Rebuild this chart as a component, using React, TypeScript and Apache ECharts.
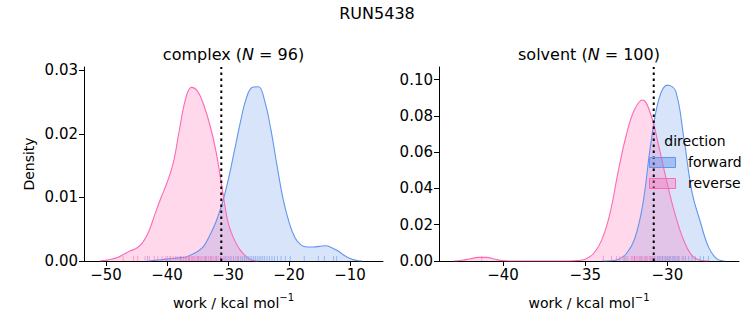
import React, { useEffect, useRef } from "react";
import * as echarts from "echarts";

const BLUE = "#6495ED";
const PINK = "#FF69B4";
const FONT = "DejaVu Sans";

// KDE curves [work, density]
const complexForward: [number, number][] = [
  [-43, 0], [-42, 0.0001], [-41, 0.0002], [-40, 0.0003], [-39, 0.0004], [-38, 0.0005],
  [-37, 0.0006], [-36, 0.001], [-35, 0.0015], [-34, 0.0023], [-33, 0.004], [-32, 0.0061],
  [-31, 0.0089], [-30, 0.0126], [-29, 0.0171], [-28, 0.0217], [-27, 0.0256], [-26, 0.0273],
  [-25, 0.0274], [-24, 0.0252], [-23, 0.0208], [-22, 0.0152], [-21, 0.0099], [-20, 0.0061],
  [-19, 0.0036], [-18, 0.0025], [-17, 0.0022], [-16, 0.0022], [-15, 0.0023], [-14, 0.0024],
  [-13, 0.0021], [-12, 0.0016], [-11, 0.0009], [-10, 0.0004], [-9, 0.0001], [-8, 0],
];
const complexReverse: [number, number][] = [
  [-51, 0], [-50, 0.0001], [-49, 0.0003], [-48, 0.0006], [-47, 0.0011], [-46, 0.0016],
  [-45, 0.002], [-44, 0.0029], [-43, 0.0046], [-42, 0.0073], [-41, 0.0099], [-40, 0.0123],
  [-39, 0.0153], [-38, 0.0204], [-37, 0.0253], [-36, 0.0273], [-35, 0.0267], [-34, 0.0246],
  [-33, 0.0215], [-32, 0.0174], [-31, 0.0117], [-30, 0.0061], [-29, 0.0034], [-28, 0.0017],
  [-27, 0.0007], [-26, 0.0001], [-25, 0],
];
const solventForward: [number, number][] = [
  [-34, 0], [-33.5, 0.0001], [-33, 0.0008], [-32.5, 0.004], [-32, 0.012], [-31.5, 0.031],
  [-31, 0.0653], [-30.5, 0.0898], [-30, 0.097], [-29.5, 0.0938], [-29, 0.068], [-28.5, 0.038],
  [-28, 0.0218], [-27.5, 0.0078], [-27, 0.0013], [-26.5, 0],
];
const solventReverse: [number, number][] = [
  [-43, 0], [-42.5, 0.0004], [-42, 0.0012], [-41.5, 0.002], [-41, 0.002], [-40.5, 0.001],
  [-40, 0.0002], [-39.5, 0], [-36, 0], [-35.5, 0.0002], [-35, 0.001], [-34.5, 0.004],
  [-34, 0.0115], [-33.5, 0.026], [-33, 0.049], [-32.5, 0.0695], [-32, 0.0835], [-31.5, 0.0888],
  [-31, 0.0805], [-30.5, 0.0624], [-30, 0.0424], [-29.5, 0.0248], [-29, 0.0113], [-28.5, 0.003],
  [-28, 0.0004], [-27.5, 0],
];

// rug samples
const complexForwardRug = [
  -43.2, -39.5, -37.8, -36.4, -34.9, -33.7, -32.8, -31.9, -31.2, -30.5, -30.0, -29.5, -29.1,
  -28.7, -28.3, -27.9, -27.6, -27.3, -27.0, -26.7, -26.4, -26.1, -25.8, -25.5, -25.2, -24.9,
  -24.6, -24.3, -24.0, -23.6, -23.2, -22.8, -22.4, -21.9, -21.3, -20.6, -19.8, -17.5, -15.2,
  -14.2, -12.7, -12.2,
];
const complexReverseRug = [
  -47.2, -45.5, -44.8, -43.6, -42.9, -42.1, -41.5, -40.8, -40.2, -39.9, -39.4, -39.0, -38.6,
  -38.3, -37.9, -37.6, -37.3, -37.0, -36.8, -36.5, -36.3, -36.0, -35.8, -35.6, -35.4, -35.1,
  -34.9, -34.6, -34.4, -34.1, -33.8, -33.5, -33.2, -32.9, -32.6, -32.3, -32.0, -31.6, -31.2,
  -30.8, -30.3, -29.7, -29.1, -28.4,
];
const solventForwardRug = [
  -32.6, -32.0, -31.6, -31.3, -31.0, -30.8, -30.6, -30.5, -30.4, -30.3, -30.2, -30.1, -30.0,
  -29.9, -29.8, -29.7, -29.6, -29.5, -29.4, -29.3, -29.1, -28.9, -28.7, -28.5, -28.3, -28.0,
  -27.8, -27.5,
];
const solventReverseRug = [
  -41.3, -33.9, -33.4, -33.1, -32.9, -32.7, -32.5, -32.4, -32.2, -32.1, -32.0, -31.9, -31.8,
  -31.7, -31.6, -31.5, -31.4, -31.3, -31.2, -31.1, -31.0, -30.9, -30.7, -30.5, -30.3, -30.1,
  -29.9, -29.6, -29.3, -29.0,
];

const complexLine = -31.1;
const solventLine = -30.83;

const complexXTicks = [-50, -40, -30, -20, -10];
const complexYTicks = [0, 0.01, 0.02, 0.03];
const solventXTicks = [-40, -35, -30];
const solventYTicks = [0, 0.02, 0.04, 0.06, 0.08, 0.1];

const complexXRange = [-53.6, -4.6];
const complexYMax = 0.0305;
const solventXRange = [-43.9, -25.64];
const solventYMax = 0.107;

const fmtMinus = (v: number) => (v < 0 ? "\u2212" + Math.abs(v) : String(v));

const xNameRich = {
  b: { fontSize: 14, fontFamily: FONT, color: "#000", lineHeight: 18, verticalAlign: "bottom" },
  sup: { fontSize: 10, fontFamily: FONT, color: "#000", lineHeight: 18, verticalAlign: "top" },
};

function xAxis(grid: number, range: number[], ticks: number[]) {
  return {
    type: "value",
    gridIndex: grid,
    min: range[0],
    max: range[1],
    axisLine: { show: true, onZero: false, lineStyle: { color: "#000", width: 1 } },
    axisTick: { show: true, length: 5, customValues: ticks, lineStyle: { color: "#000", width: 1 } },
    axisLabel: { customValues: ticks, formatter: fmtMinus, color: "#000", fontSize: 15, fontFamily: FONT, margin: 6 },
    splitLine: { show: false },
    name: "{b|work / kcal mol}{sup|\u22121}",
    nameLocation: "middle",
    nameGap: 31,
    nameTextStyle: { rich: xNameRich },
  };
}

function yAxis(grid: number, max: number, ticks: number[], name?: string) {
  return {
    type: "value",
    gridIndex: grid,
    min: 0,
    max,
    axisLine: { show: true, onZero: false, lineStyle: { color: "#000", width: 1 } },
    axisTick: { show: true, length: 5, customValues: ticks, lineStyle: { color: "#000", width: 1 } },
    axisLabel: { customValues: ticks, formatter: (v: number) => v.toFixed(2), color: "#000", fontSize: 15, fontFamily: FONT, margin: 6 },
    splitLine: { show: false },
    name: name || "",
    nameLocation: "middle",
    nameGap: 48,
    nameTextStyle: { color: "#000", fontSize: 14, fontFamily: FONT },
  };
}

function kde(data: [number, number][], color: string, grid: number) {
  return {
    type: "line",
    xAxisIndex: grid,
    yAxisIndex: grid,
    data,
    smooth: 0.4,
    symbol: "none",
    lineStyle: { color, width: 1.1 },
    areaStyle: { color, opacity: 0.26 },
    z: 2,
  };
}

function rug(vals: number[], color: string, grid: number) {
  return {
    type: "scatter",
    xAxisIndex: grid,
    yAxisIndex: grid,
    data: vals.map((v) => [v, 0]),
    symbol: "rect",
    symbolSize: [1, 5],
    symbolOffset: [0, -2.5],
    itemStyle: { color, opacity: 0.55 },
    z: 3,
  };
}

function vline(x: number, ymax: number, grid: number) {
  return {
    type: "line",
    xAxisIndex: grid,
    yAxisIndex: grid,
    data: [[x, 0], [x, ymax]],
    symbol: "none",
    lineStyle: { color: "#000", width: 2, type: [2.5, 3.5] },
    z: 5,
  };
}

const titleRich = {
  t: { fontSize: 16, fontFamily: FONT, color: "#000" },
  i: { fontSize: 16, fontFamily: FONT, color: "#000", fontStyle: "italic" },
};

export default function App() {
  const ref = useRef<HTMLDivElement>(null);
  useEffect(() => {
    document.body.style.margin = "0";
    const chart = echarts.init(ref.current!, null, { renderer: "svg" });
    const option: any = {
      animation: false,
      backgroundColor: "#fff",
      grid: [
        { left: 84, top: 67, width: 299, height: 194 },
        { left: 439, top: 67, width: 300, height: 194 },
      ],
      xAxis: [xAxis(0, complexXRange, complexXTicks), xAxis(1, solventXRange, solventXTicks)],
      yAxis: [yAxis(0, complexYMax, complexYTicks, "Density"), yAxis(1, solventYMax, solventYTicks)],
      series: [
        kde(complexForward, BLUE, 0),
        kde(complexReverse, PINK, 0),
        rug(complexForwardRug, BLUE, 0),
        rug(complexReverseRug, PINK, 0),
        vline(complexLine, complexYMax, 0),
        kde(solventForward, BLUE, 1),
        kde(solventReverse, PINK, 1),
        rug(solventForwardRug, BLUE, 1),
        rug(solventReverseRug, PINK, 1),
        vline(solventLine, solventYMax, 1),
      ],
      graphic: [
        { type: "text", x: 377, y: 13, style: { text: "RUN5438", fontSize: 16, fontFamily: FONT, fill: "#000", align: "center", verticalAlign: "middle" } },
        { type: "text", x: 233.5, y: 54, style: { text: "{t|complex (}{i|N}{t| = 96)}", rich: titleRich, align: "center", verticalAlign: "middle" } },
        { type: "text", x: 589, y: 54, style: { text: "{t|solvent (}{i|N}{t| = 100)}", rich: titleRich, align: "center", verticalAlign: "middle" } },
        { type: "text", x: 695, y: 141, style: { text: "direction", fontSize: 14, fontFamily: FONT, fill: "#000", align: "center", verticalAlign: "middle" }, z: 10 },
        { type: "rect", shape: { x: 649.5, y: 157.5, width: 26, height: 10 }, style: { fill: "rgba(100,149,237,0.45)", stroke: BLUE, lineWidth: 1 }, z: 10 },
        { type: "text", x: 688, y: 162, style: { text: "forward", fontSize: 14, fontFamily: FONT, fill: "#000", align: "left", verticalAlign: "middle" }, z: 10 },
        { type: "rect", shape: { x: 649.5, y: 178.5, width: 26, height: 10 }, style: { fill: "rgba(255,105,180,0.35)", stroke: PINK, lineWidth: 1 }, z: 10 },
        { type: "text", x: 688, y: 183, style: { text: "reverse", fontSize: 14, fontFamily: FONT, fill: "#000", align: "left", verticalAlign: "middle" }, z: 10 },
      ],
    };
    chart.setOption(option);
    return () => chart.dispose();
  }, []);
  return <div ref={ref} style={{ width: 753, height: 325 }} />;
}
